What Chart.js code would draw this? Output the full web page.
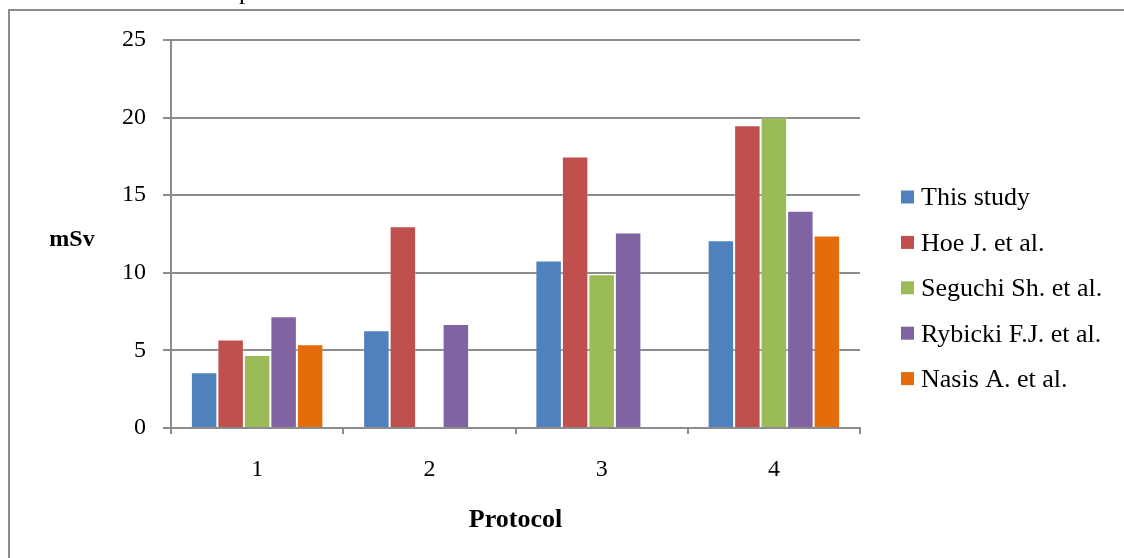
<!DOCTYPE html>
<html>
<head>
<meta charset="utf-8">
<script src="https://cdn.jsdelivr.net/npm/chart.js@4/dist/chart.umd.min.js"></script>
<style>
  html, body { margin: 0; padding: 0; background: #ffffff; }
  canvas { display: block; }
</style>
</head>
<body>
<canvas id="c" width="1124" height="558"></canvas>
<script>
// Effective dose (mSv) per scanning protocol
const protocols = ['1', '2', '3', '4'];
const seriesNames = ['This study', 'Hoe J. et al.', 'Seguchi Sh. et al.', 'Rybicki F.J. et al.', 'Nasis A. et al.'];
const thisStudy = [3.6, 6.3, 10.8, 12.1];
const hoe       = [5.7, 13.0, 17.5, 19.5];
const seguchi   = [4.7, null, 9.9, 20.0];
const rybicki   = [7.2, 6.7, 12.6, 14.0];
const nasis     = [5.4, null, null, 12.4];
const yMin = 0, yMax = 25, yStep = 5;
const yTitle = 'mSv';
const xTitle = 'Protocol';

const seriesValues = [thisStudy, hoe, seguchi, rybicki, nasis];
const seriesColors = ['#4F81BD', '#C0504D', '#9BBB59', '#8064A2', '#E46C0A'];
const axisGray = '#8c8c8c';
const serif = '"Liberation Serif", "Times New Roman", serif';

Chart.defaults.color = '#000000';
Chart.defaults.font.family = serif;

// Outer frame, caption fragment, y title and legend
const decor = {
  id: 'decor',
  beforeDraw(chart) {
    const ctx = chart.ctx;
    ctx.save();
    ctx.fillStyle = '#ffffff';
    ctx.fillRect(0, 0, chart.width, chart.height);
    ctx.strokeStyle = axisGray;
    ctx.lineWidth = 2;
    ctx.beginPath();
    ctx.moveTo(9, chart.height + 5);
    ctx.lineTo(9, 10);
    ctx.lineTo(chart.width + 5, 10);
    ctx.stroke();
    ctx.fillStyle = '#000000';
    ctx.font = '25px ' + serif;
    ctx.textBaseline = 'alphabetic';
    ctx.fillText('p', 239, -1);
    ctx.restore();
  },
  afterDraw(chart) {
    const ctx = chart.ctx;
    ctx.save();
    ctx.fillStyle = '#000000';
    ctx.font = 'bold 24px ' + serif;
    ctx.textAlign = 'center';
    ctx.textBaseline = 'middle';
    ctx.fillText(yTitle, 72, 240);

    ctx.font = '26px ' + serif;
    ctx.textAlign = 'left';
    chart.data.datasets.forEach((ds, i) => {
      const top = 190.5 + 45.4 * i;
      ctx.fillStyle = ds.backgroundColor;
      ctx.fillRect(901, top, 13, 13);
      ctx.fillStyle = '#000000';
      ctx.fillText(ds.label, 921, top + 8);
    });
    ctx.restore();
  }
};

new Chart(document.getElementById('c'), {
  type: 'bar',
  data: {
    labels: protocols,
    datasets: seriesNames.map((name, i) => ({
      label: name,
      data: seriesValues[i],
      backgroundColor: seriesColors[i],
      borderColor: 'rgba(255,255,255,0.3)',
      borderWidth: 1,
      categoryPercentage: 5 / 6.5,
      barPercentage: 1
    }))
  },
  options: {
    responsive: false,
    animation: false,
    devicePixelRatio: 1,
    layout: { padding: { left: 0, top: 40, right: 264, bottom: 0 } },
    plugins: {
      legend: { display: false },
      tooltip: { enabled: false }
    },
    scales: {
      x: {
        grid: {
          drawOnChartArea: false,
          drawTicks: true,
          tickLength: 6,
          color: axisGray,
          lineWidth: 2
        },
        border: { display: true, color: axisGray, width: 2 },
        ticks: { font: { size: 24, family: serif }, color: '#000000', padding: 21 },
        title: {
          display: true,
          text: xTitle,
          font: { size: 26, weight: 'bold', family: serif },
          color: '#000000',
          padding: { top: 0, bottom: 22 }
        },
        afterFit(scale) { scale.height = 130; }
      },
      y: {
        min: yMin,
        max: yMax,
        ticks: { stepSize: yStep, font: { size: 24, family: serif }, color: '#000000', padding: 17 },
        grid: { color: axisGray, lineWidth: 2, drawTicks: true, tickLength: 8 },
        border: { display: true, color: axisGray, width: 2 },
        afterFit(scale) { scale.width = 171; }
      }
    }
  },
  plugins: [decor]
});
</script>
</body>
</html>
